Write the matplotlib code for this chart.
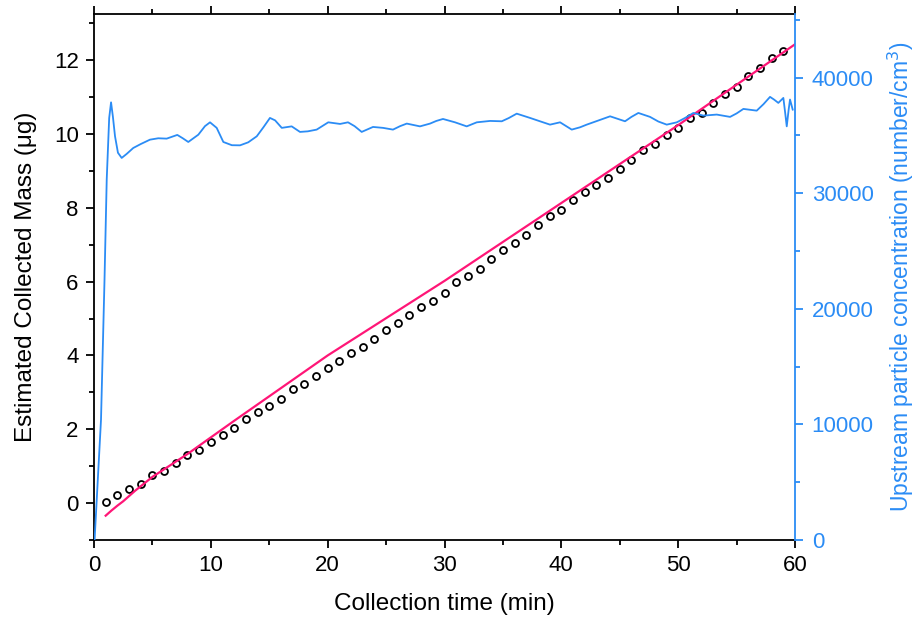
import matplotlib.pyplot as plt
from matplotlib.ticker import MultipleLocator

plt.rcParams['font.family'] = ['Liberation Sans', 'DejaVu Sans']

# collected mass, measured (open circles), one point per minute
time_pts = list(range(1, 60))
mass_pts = [0.03, 0.22, 0.39, 0.53, 0.75, 0.87, 1.08, 1.30, 1.43, 1.66,
            1.85, 2.03, 2.27, 2.48, 2.63, 2.83, 3.08, 3.23, 3.45, 3.67,
            3.86, 4.06, 4.22, 4.45, 4.68, 4.87, 5.10, 5.31, 5.48, 5.69,
            5.98, 6.14, 6.35, 6.62, 6.85, 7.05, 7.26, 7.53, 7.77, 7.94,
            8.20, 8.44, 8.61, 8.82, 9.04, 9.30, 9.56, 9.72, 9.98, 10.15,
            10.43, 10.58, 10.83, 11.08, 11.27, 11.57, 11.79, 12.05, 12.25]

# estimated mass (pink line)
time_fit = [1.0, 1.5, 2.0, 2.5, 3.5, 5.0, 8.0, 12.0, 20.0, 30.0, 40.0, 50.0, 60.0]
mass_fit = [-0.34, -0.2, -0.07, 0.05, 0.33, 0.71, 1.33, 2.23, 4.0, 6.02, 8.13, 10.24, 12.43]

# upstream particle concentration (blue line)
time_conc = [0.05, 0.6, 0.9, 1.09, 1.3, 1.46, 1.62, 1.80, 2.05, 2.37, 2.8, 3.36, 4.0,
             4.79, 5.5, 6.22, 7.13, 7.6, 8.07, 8.93, 9.5, 9.93, 10.50, 11.07, 11.8,
             12.50, 13.2, 13.93, 14.5, 15.06, 15.5, 16.07, 16.92, 17.63, 18.3, 19.06,
             20.05, 21.06, 21.74, 22.3, 22.91, 23.88, 24.74, 25.59, 26.2, 26.77, 27.90,
             28.76, 29.3, 29.87, 30.90, 31.90, 32.76, 33.90, 34.90, 35.5, 36.18, 37.32,
             38.17, 39.03, 39.89, 40.89, 41.60, 42.17, 43.2, 44.17, 45.45, 46.0, 46.59,
             47.59, 48.3, 49.02, 49.88, 50.59, 51.30, 52.15, 53.30, 54.44, 55.0, 55.58,
             56.72, 57.3, 57.86, 58.2, 58.57, 59.00, 59.15, 59.29, 59.45, 59.57, 59.80]
conc = [0, 10400, 22500, 31200, 36500, 37860, 36600, 34920, 33500, 33050, 33400, 33910,
        34250, 34630, 34750, 34720, 35040, 34750, 34430, 35060, 35800, 36130, 35650, 34430,
        34150, 34140, 34400, 34920, 35700, 36510, 36300, 35650, 35780, 35300, 35350, 35500,
        36130, 35990, 36130, 35800, 35300, 35730, 35650, 35500, 35800, 36020, 35780,
        36020, 36250, 36420, 36130, 35780, 36130, 36250, 36220, 36500, 36880, 36510,
        36220, 35930, 36130, 35500, 35700, 35930, 36300, 36650, 36220, 36600, 36940,
        36600, 36200, 35930, 36130, 36510, 36940, 36710, 36800, 36600, 36900, 37290,
        37140, 37700, 38330, 38100, 37810, 38240, 37000, 35780, 37200, 38100, 37230]

blue = '#2b8cf5'
pink = '#ff1677'

fig = plt.figure(figsize=(9.17, 6.22), dpi=100)
ax = fig.add_axes([0.1025, 0.1318, 0.7645, 0.8457])
ax2 = ax.twinx()

ax.plot(time_pts, mass_pts, 'o', mfc='none', mec='black', ms=5, mew=1.3, zorder=2)
ax.plot(time_fit, mass_fit, color=pink, lw=1.6, zorder=3)
ax2.plot(time_conc, conc, color=blue, lw=1.3)

ax.set_xlim(0, 60)
ax.set_ylim(-1, 13.25)
ax2.set_ylim(0, 45500)

ax.xaxis.set_major_locator(MultipleLocator(10))
ax.xaxis.set_minor_locator(MultipleLocator(5))
ax.yaxis.set_major_locator(MultipleLocator(2))
ax.yaxis.set_minor_locator(MultipleLocator(1))
ax2.yaxis.set_major_locator(MultipleLocator(10000))
ax2.yaxis.set_minor_locator(MultipleLocator(5000))

ax.tick_params(which='both', direction='out', top=True, width=1.3, labelsize=16, pad=5)
ax.tick_params(which='major', length=6)
ax.tick_params(which='minor', length=3.5)
ax2.tick_params(which='both', direction='out', colors=blue, width=1.3, labelsize=16, pad=6)
ax2.tick_params(which='major', length=6)
ax2.tick_params(which='minor', length=3.5)

for s in ax.spines.values():
    s.set_linewidth(1.3)
ax.spines['right'].set_visible(False)
for name, s in ax2.spines.items():
    s.set_linewidth(1.3)
    if name != 'right':
        s.set_visible(False)
ax2.spines['right'].set_color(blue)

ax.set_xlabel('Collection time (min)', fontsize=17.5, labelpad=12)
ax.set_ylabel('Estimated Collected Mass (\u03bcg)', fontsize=17.5, labelpad=12)
ax2.set_ylabel('Upstream particle concentration (number/cm$^3$)', fontsize=16.5,
               color=blue, labelpad=9)

fig.savefig('out.png', dpi=100)
